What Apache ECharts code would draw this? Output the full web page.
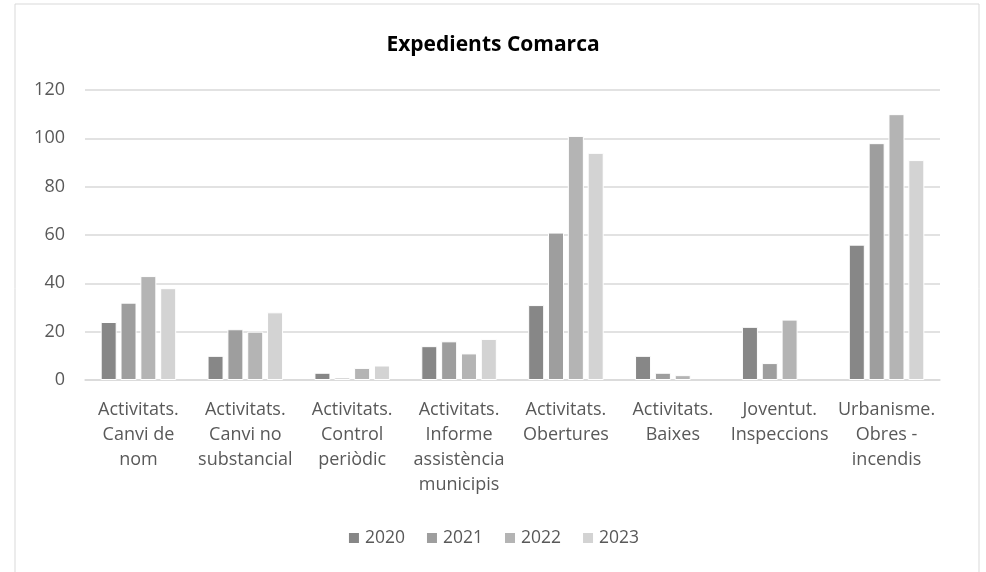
<!DOCTYPE html>
<html>
<head>
    <meta charset="utf-8"/>
    <title>Expedients Comarca</title>
    <script src="https://cdn.jsdelivr.net/npm/echarts@6/dist/echarts.min.js"></script>
    <style>
        html, body { margin: 0; padding: 0; background: #fff; }
        #chart { width: 986px; height: 572px; }
    </style>
</head>
<body>
<div id="chart"></div>
<script>
    // categories and values
    var categories = [
        'Activitats.\nCanvi de\nnom',
        'Activitats.\nCanvi no\nsubstancial',
        'Activitats.\nControl\nperiòdic',
        'Activitats.\nInforme\nassistència\nmunicipis',
        'Activitats.\nObertures',
        'Activitats.\nBaixes',
        'Joventut.\nInspeccions',
        'Urbanisme.\nObres -\nincendis'
    ];
    var years = ['2020', '2021', '2022', '2023'];
    var values2020 = [24, 10, 3, 14, 31, 10, 22, 56];
    var values2021 = [32, 21, 1, 16, 61, 3, 7, 98];
    var values2022 = [43, 20, 5, 11, 101, 2, 25, 110];
    var values2023 = [38, 28, 6, 17, 94, '-', '-', 91];
    var yTicks = [0, 20, 40, 60, 80, 100, 120];

    var colors = ['#878787', '#9e9e9e', '#b4b4b4', '#d3d3d3'];
    var font = 'Open Sans, Liberation Sans, sans-serif';

    var chart = echarts.init(document.getElementById('chart'));

    var makeSeries = function (name, data, i) {
        return {
            name: name,
            type: 'bar',
            data: data,
            barWidth: 16,
            barGap: '24%',
            itemStyle: {
                color: colors[i],
                borderColor: '#ffffff',
                borderWidth: 1
            }
        };
    };

    var option = {
        animation: false,
        color: colors,
        graphic: [{
            type: 'rect',
            shape: { x: 15, y: 4, width: 964, height: 580 },
            style: { fill: 'none', stroke: '#d9d9d9', lineWidth: 1 },
            silent: true
        }],
        title: {
            text: 'Expedients Comarca',
            left: 'center',
            top: 30,
            textStyle: {
                fontFamily: font,
                fontSize: 21,
                fontWeight: 'bold',
                color: '#000'
            }
        },
        legend: {
            data: years,
            bottom: 20,
            left: 'center',
            itemWidth: 12,
            itemHeight: 12,
            itemGap: 20,
            icon: 'rect',
            textStyle: { fontFamily: font, fontSize: 17.5, color: '#595959' }
        },
        grid: {
            left: 85,
            right: 46,
            top: 90,
            bottom: 192,
            containLabel: false
        },
        xAxis: {
            type: 'category',
            data: categories,
            axisLine: { lineStyle: { color: '#d9d9d9', width: 1.5 } },
            axisTick: { show: false },
            axisLabel: {
                interval: 0,
                margin: 17,
                lineHeight: 25,
                fontFamily: font,
                fontSize: 18,
                color: '#595959'
            }
        },
        yAxis: {
            type: 'value',
            min: yTicks[0],
            max: yTicks[yTicks.length - 1],
            interval: 20,
            axisLine: { show: false },
            axisTick: { show: false },
            splitLine: { lineStyle: { color: '#d9d9d9', width: 1.5 } },
            axisLabel: {
                margin: 20,
                fontFamily: font,
                fontSize: 18,
                color: '#595959'
            }
        },
        series: [
            makeSeries(years[0], values2020, 0),
            makeSeries(years[1], values2021, 1),
            makeSeries(years[2], values2022, 2),
            makeSeries(years[3], values2023, 3)
        ]
    };
    chart.setOption(option);
</script>
</body>
</html>
